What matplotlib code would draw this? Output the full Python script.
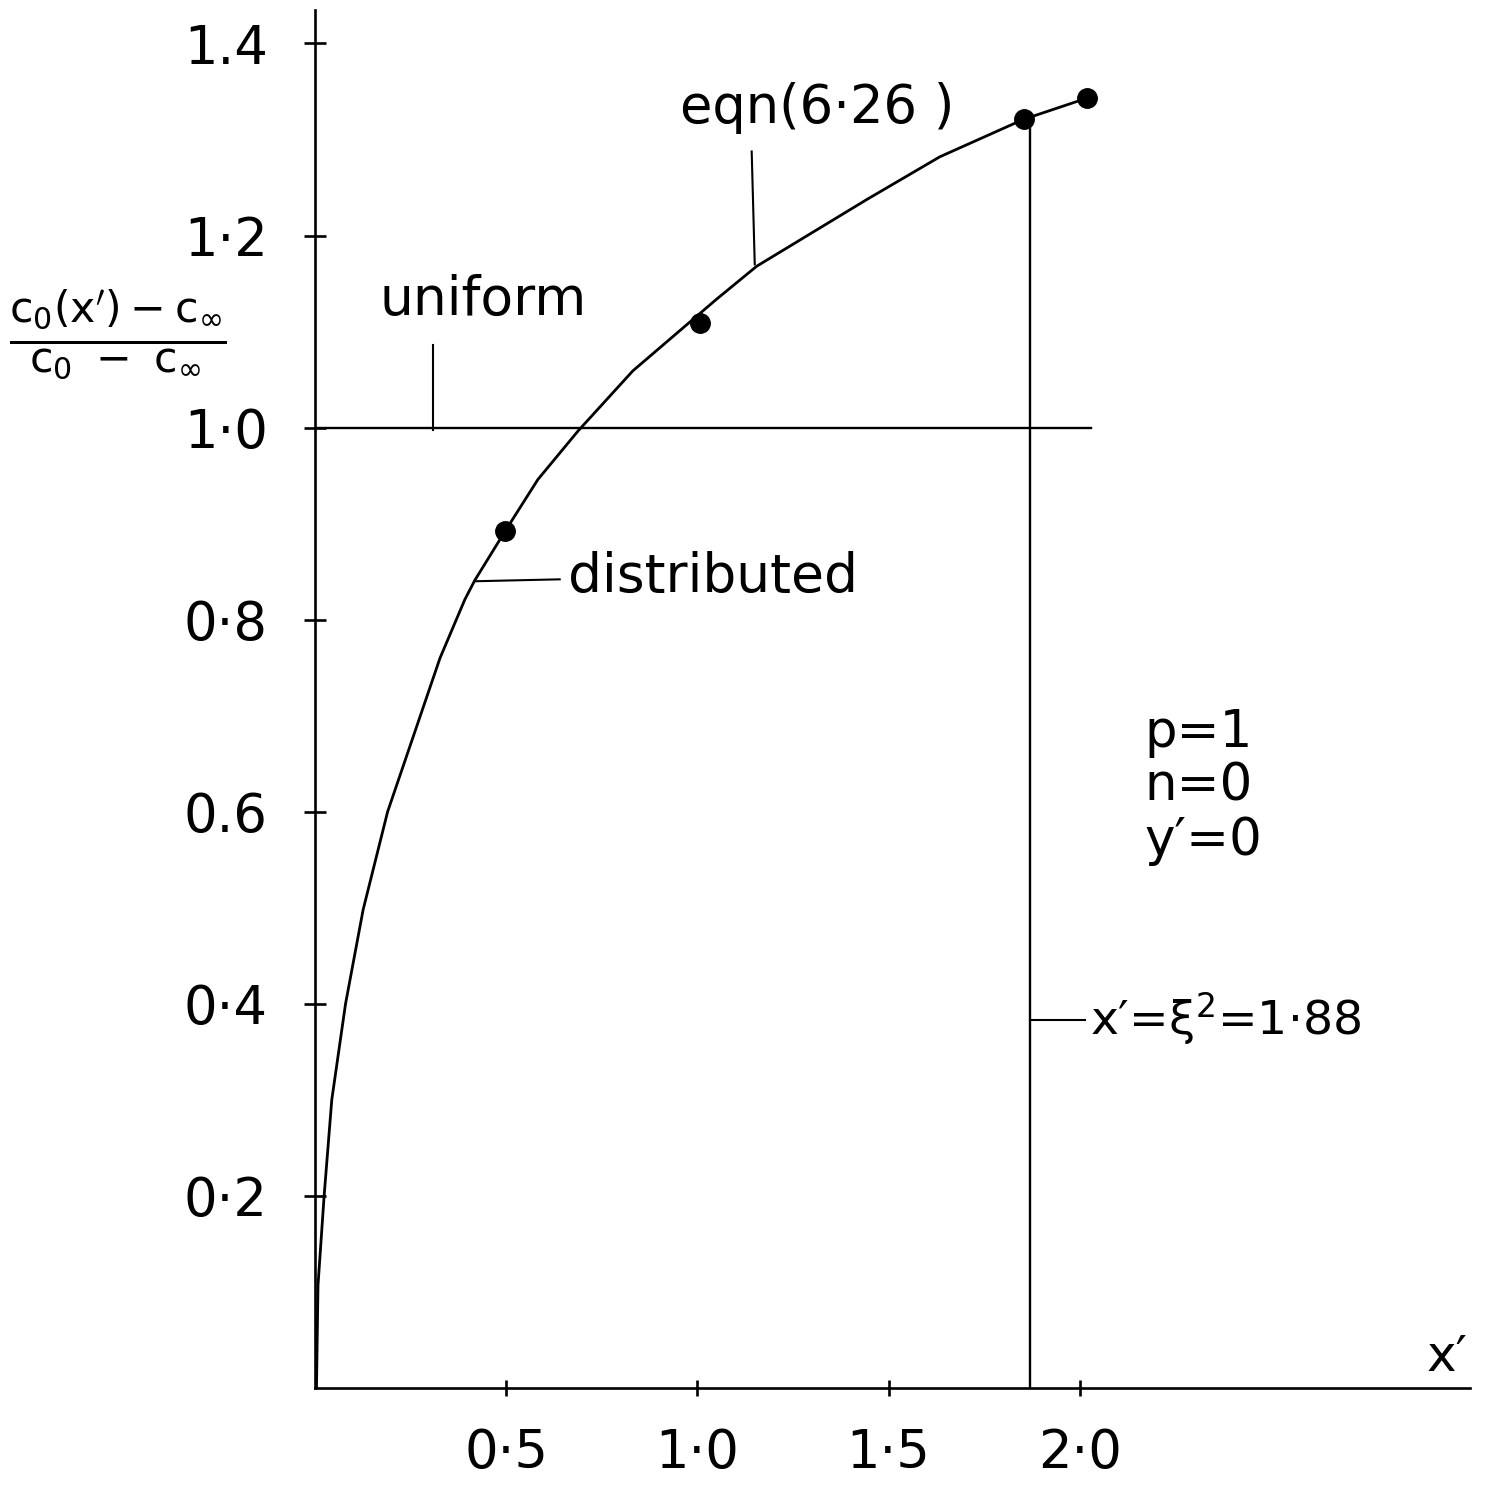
"""Redraw of the scanned c0 profile plot (p=1, n=0, y'=0)."""

import matplotlib

matplotlib.use("Agg")
import matplotlib.pyplot as plt

# curve
curve_x = [0.004, 0.008, 0.024, 0.044, 0.080, 0.126, 0.19, 0.327, 0.392, 0.418, 0.497,
           0.583, 0.688, 0.831, 1.051, 1.155, 1.443, 1.634, 1.853, 2.018]
curve_y = [0.0, 0.107, 0.2, 0.3, 0.4, 0.498, 0.6, 0.760, 0.821, 0.841, 0.892,
           0.946, 0.9965, 1.059, 1.134, 1.168, 1.2375, 1.282, 1.321, 1.343]

# marked points
pts_x = [0.497, 1.007, 1.853, 2.018]
pts_y = [0.892, 1.109, 1.321, 1.343]

uniform_level = 1.0
uniform_xmax = 2.03
xi_sq = 1.87

yticks = [0.2, 0.4, 0.6, 0.8, 1.0, 1.2, 1.4]
ytick_labels = ["0·2", "0·4", "0.6", "0·8", "1·0", "1·2", "1.4"]
xticks = [0.5, 1.0, 1.5, 2.0]
xtick_labels = ["0·5", "1·0", "1·5", "2·0"]

plt.rcParams["font.family"] = ["DejaVu Sans"]
plt.rcParams["mathtext.fontset"] = "dejavusans"

fig = plt.figure(figsize=(14.87, 14.94), dpi=100)
ax = fig.add_axes([0.2118, 0.0710, 0.7767, 0.9224])

ax.plot(curve_x, curve_y, color="black", lw=2.0, solid_joinstyle="round")
ax.plot(pts_x, pts_y, "o", color="black", ms=14)
ax.plot([0, uniform_xmax], [uniform_level, uniform_level], color="black", lw=1.7)
ax.plot([xi_sq, xi_sq], [0, pts_y[2]], color="black", lw=1.7)

ax.set_xlim(0, 3.02)
ax.set_ylim(0, 1.435)
for s in ("top", "right"):
    ax.spines[s].set_visible(False)
for s in ("left", "bottom"):
    ax.spines[s].set_linewidth(1.9)

ax.set_yticks(yticks)
ax.set_yticklabels(ytick_labels, fontsize=38)
ax.set_xticks(xticks)
ax.set_xticklabels(xtick_labels, fontsize=38)
ax.tick_params(axis="y", direction="inout", length=16, width=1.9, pad=26)
ax.tick_params(axis="x", direction="inout", length=12, width=1.9, pad=22)

# annotations with leader lines
lead = dict(color="black", lw=1.5)
ax.text(0.954, 1.333, "eqn(6·26 )", fontsize=38, va="center")
ax.plot([1.142, 1.150], [1.2875, 1.170], **lead)
ax.text(0.170, 1.133, "uniform", fontsize=38.5, va="center")
ax.plot([0.308, 0.308], [1.086, 0.998], **lead)
ax.text(0.661, 0.844, "distributed", fontsize=38.5, va="center")
ax.plot([0.418, 0.640], [0.840, 0.842], **lead)
ax.text(2.170, 0.708, "p=1\nn=0\ny′=0", fontsize=37, va="top", linespacing=1.1)
ax.text(2.026, 0.385, "x′=ξ$^{2}$=1·88", fontsize=34, va="center")
ax.plot([1.869, 2.013], [0.383, 0.383], **lead)
ax.text(2.96, 0.032, "x′", fontsize=36, ha="center", va="center")

fig.text(118 / 1487, 1 - 335 / 1494,
         r"$\frac{\mathrm{c}_0(\mathrm{x}^{\prime})-\mathrm{c}_{\infty}}"
         r"{\mathrm{c}_0\ -\ \mathrm{c}_{\infty}}$",
         fontsize=44, ha="center", va="center")

fig.savefig("out.png", dpi=100, facecolor="white")
